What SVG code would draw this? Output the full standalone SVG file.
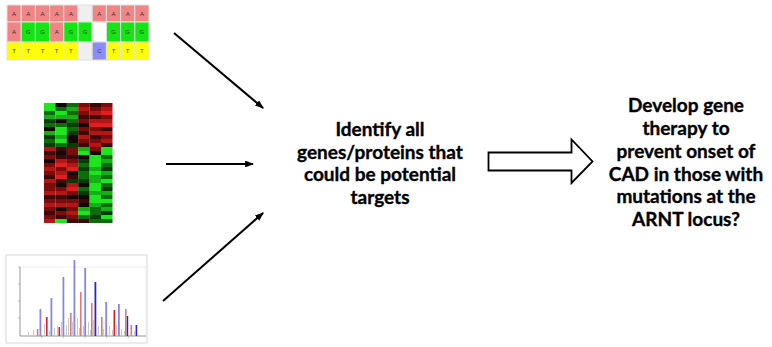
<svg xmlns="http://www.w3.org/2000/svg" width="772" height="347" viewBox="0 0 772 347">
<defs>
<style>
.cell{stroke:#e2e2e2;stroke-width:1}
.pk{fill:#f08585}.gn{fill:#14e614}.yl{fill:#ffff00}.bl{fill:#8c8cf5}.gy{fill:#efefef}.wh{fill:#ffffff}
.base{font-family:"Liberation Sans",Arial,sans-serif;font-size:6px;fill:#333;text-anchor:middle}
.g1{fill:#1ee61e}.g2{fill:#16b016}.g3{fill:#0b6e0b}.g4{fill:#073c07}.k{fill:#120808}
.r4{fill:#3c0808}.r3{fill:#7a0c0c}.r2{fill:#b41616}.r1{fill:#e21e1e}
.lb{fill:#8585ea}.db{fill:#2828d0}.lr{fill:#e07a7a}.dr{fill:#dc2020}.gb{fill:#c8c8c8}
.conn{stroke:#000;stroke-width:2;fill:none}
.lbl{font-family:Lato,"Liberation Sans",sans-serif;font-weight:bold;font-size:19px;fill:#000;stroke:#000;stroke-width:0.35;text-anchor:middle}
</style>
<marker id="ah" viewBox="0 0 8 6" refX="7" refY="3" markerWidth="4.5" markerHeight="3.4" orient="auto" markerUnits="strokeWidth">
<path d="M0,0 L8,3 L0,6 z" fill="#000"/>
</marker>
</defs>

<g id="sequence-alignment">
<rect class="cell pk" x="7" y="5" width="14.2" height="17"/>
<rect class="cell pk" x="21.2" y="5" width="14.2" height="17"/>
<rect class="cell pk" x="35.4" y="5" width="14.2" height="17"/>
<rect class="cell pk" x="49.6" y="5" width="14.2" height="17"/>
<rect class="cell pk" x="63.8" y="5" width="14.2" height="17"/>
<rect class="cell gy" x="78" y="5" width="14.2" height="17"/>
<rect class="cell pk" x="92.2" y="5" width="14.2" height="17"/>
<rect class="cell pk" x="106.4" y="5" width="14.2" height="17"/>
<rect class="cell pk" x="120.6" y="5" width="14.2" height="17"/>
<rect class="cell pk" x="134.8" y="5" width="14.2" height="17"/>

<rect class="cell pk" x="7" y="22" width="14.2" height="20"/>
<rect class="cell gn" x="21.2" y="22" width="14.2" height="20"/>
<rect class="cell gn" x="35.4" y="22" width="14.2" height="20"/>
<rect class="cell pk" x="49.6" y="22" width="14.2" height="20"/>
<rect class="cell gn" x="63.8" y="22" width="14.2" height="20"/>
<rect class="cell gn" x="78" y="22" width="14.2" height="20"/>
<rect class="cell wh" x="92.2" y="22" width="14.2" height="20"/>
<rect class="cell gn" x="106.4" y="22" width="14.2" height="20"/>
<rect class="cell gn" x="120.6" y="22" width="14.2" height="20"/>
<rect class="cell gn" x="134.8" y="22" width="14.2" height="20"/>

<rect class="cell yl" x="7" y="42" width="14.2" height="18"/>
<rect class="cell yl" x="21.2" y="42" width="14.2" height="18"/>
<rect class="cell yl" x="35.4" y="42" width="14.2" height="18"/>
<rect class="cell yl" x="49.6" y="42" width="14.2" height="18"/>
<rect class="cell yl" x="63.8" y="42" width="14.2" height="18"/>
<rect class="cell gy" x="78" y="42" width="14.2" height="18"/>
<rect class="cell bl" x="92.2" y="42" width="14.2" height="18"/>
<rect class="cell yl" x="106.4" y="42" width="14.2" height="18"/>
<rect class="cell yl" x="120.6" y="42" width="14.2" height="18"/>
<rect class="cell yl" x="134.8" y="42" width="14.2" height="18"/>

<text class="base" x="14.1" y="15.5">A</text>
<text class="base" x="28.3" y="15.5">A</text>
<text class="base" x="42.5" y="15.5">A</text>
<text class="base" x="56.7" y="15.5">A</text>
<text class="base" x="70.9" y="15.5">A</text>
<text class="base" x="99.3" y="15.5">A</text>
<text class="base" x="113.5" y="15.5">A</text>
<text class="base" x="127.7" y="15.5">A</text>
<text class="base" x="141.9" y="15.5">A</text>

<text class="base" x="14.1" y="34">A</text>
<text class="base" x="28.3" y="34">G</text>
<text class="base" x="42.5" y="34">G</text>
<text class="base" x="56.7" y="34">A</text>
<text class="base" x="70.9" y="34">G</text>
<text class="base" x="85.1" y="34">G</text>
<text class="base" x="113.5" y="34">G</text>
<text class="base" x="127.7" y="34">G</text>
<text class="base" x="141.9" y="34">G</text>

<text class="base" x="14.1" y="53">T</text>
<text class="base" x="28.3" y="53">T</text>
<text class="base" x="42.5" y="53">T</text>
<text class="base" x="56.7" y="53">T</text>
<text class="base" x="70.9" y="53">T</text>
<text class="base" x="99.3" y="53">C</text>
<text class="base" x="113.5" y="53">T</text>
<text class="base" x="127.7" y="53">T</text>
<text class="base" x="141.9" y="53">T</text>
</g>

<g id="heatmap">
<g transform="translate(44,103)">
<rect class="g1" y="0" width="11.5" height="4"/><rect class="g1" y="4" width="11.5" height="4"/><rect class="g3" y="8" width="11.5" height="4"/><rect class="g2" y="12" width="11.5" height="4"/><rect class="g4" y="16" width="11.5" height="4"/><rect class="g3" y="20" width="11.5" height="4"/><rect class="k" y="24" width="11.5" height="4"/><rect class="g2" y="28" width="11.5" height="4"/><rect class="g4" y="32" width="11.5" height="4"/><rect class="g3" y="36" width="11.5" height="4"/><rect class="g4" y="40" width="11.5" height="4"/><rect class="r2" y="44" width="11.5" height="4"/><rect class="r4" y="48" width="11.5" height="4"/><rect class="r3" y="52" width="11.5" height="4"/><rect class="k" y="56" width="11.5" height="4"/><rect class="r3" y="60" width="11.5" height="4"/><rect class="r2" y="64" width="11.5" height="4"/><rect class="r3" y="68" width="11.5" height="4"/><rect class="r4" y="72" width="11.5" height="4"/><rect class="r2" y="76" width="11.5" height="4"/><rect class="r3" y="80" width="11.5" height="4"/><rect class="r3" y="84" width="11.5" height="4"/><rect class="r2" y="88" width="11.5" height="4"/><rect class="r4" y="92" width="11.5" height="4"/><rect class="r3" y="96" width="11.5" height="4"/><rect class="r2" y="100" width="11.5" height="4"/><rect class="r3" y="104" width="11.5" height="4"/><rect class="r4" y="108" width="11.5" height="4"/><rect class="r3" y="112" width="11.5" height="4"/><rect class="r2" y="116" width="11.5" height="4"/>
</g>
<g transform="translate(55.4,103)">
<rect class="k" y="0" width="11.5" height="4"/><rect class="g3" y="4" width="11.5" height="4"/><rect class="g1" y="8" width="11.5" height="4"/><rect class="g2" y="12" width="11.5" height="4"/><rect class="k" y="16" width="11.5" height="4"/><rect class="g3" y="20" width="11.5" height="4"/><rect class="g1" y="24" width="11.5" height="4"/><rect class="g1" y="28" width="11.5" height="4"/><rect class="g2" y="32" width="11.5" height="4"/><rect class="g1" y="36" width="11.5" height="4"/><rect class="g3" y="40" width="11.5" height="4"/><rect class="r4" y="44" width="11.5" height="4"/><rect class="k" y="48" width="11.5" height="4"/><rect class="r4" y="52" width="11.5" height="4"/><rect class="r2" y="56" width="11.5" height="4"/><rect class="r1" y="60" width="11.5" height="4"/><rect class="r3" y="64" width="11.5" height="4"/><rect class="r2" y="68" width="11.5" height="4"/><rect class="r1" y="72" width="11.5" height="4"/><rect class="r4" y="76" width="11.5" height="4"/><rect class="k" y="80" width="11.5" height="4"/><rect class="r3" y="84" width="11.5" height="4"/><rect class="r2" y="88" width="11.5" height="4"/><rect class="r4" y="92" width="11.5" height="4"/><rect class="r3" y="96" width="11.5" height="4"/><rect class="r2" y="100" width="11.5" height="4"/><rect class="k" y="104" width="11.5" height="4"/><rect class="r3" y="108" width="11.5" height="4"/><rect class="r4" y="112" width="11.5" height="4"/><rect class="g1" y="116" width="11.5" height="4"/>
</g>
<g transform="translate(66.8,103)">
<rect class="g3" y="0" width="11.5" height="4"/><rect class="g2" y="4" width="11.5" height="4"/><rect class="g3" y="8" width="11.5" height="4"/><rect class="g2" y="12" width="11.5" height="4"/><rect class="g3" y="16" width="11.5" height="4"/><rect class="g4" y="20" width="11.5" height="4"/><rect class="g3" y="24" width="11.5" height="4"/><rect class="g4" y="28" width="11.5" height="4"/><rect class="k" y="32" width="11.5" height="4"/><rect class="k" y="36" width="11.5" height="4"/><rect class="g4" y="40" width="11.5" height="4"/><rect class="r3" y="44" width="11.5" height="4"/><rect class="r3" y="48" width="11.5" height="4"/><rect class="r4" y="52" width="11.5" height="4"/><rect class="r3" y="56" width="11.5" height="4"/><rect class="r2" y="60" width="11.5" height="4"/><rect class="r1" y="64" width="11.5" height="4"/><rect class="k" y="68" width="11.5" height="4"/><rect class="r4" y="72" width="11.5" height="4"/><rect class="g4" y="76" width="11.5" height="4"/><rect class="r2" y="80" width="11.5" height="4"/><rect class="r1" y="84" width="11.5" height="4"/><rect class="r3" y="88" width="11.5" height="4"/><rect class="k" y="92" width="11.5" height="4"/><rect class="r3" y="96" width="11.5" height="4"/><rect class="r2" y="100" width="11.5" height="4"/><rect class="r3" y="104" width="11.5" height="4"/><rect class="r2" y="108" width="11.5" height="4"/><rect class="r3" y="112" width="11.5" height="4"/><rect class="r4" y="116" width="11.5" height="4"/>
</g>
<g transform="translate(78.2,103)">
<rect class="r3" y="0" width="11.5" height="4"/><rect class="r2" y="4" width="11.5" height="4"/><rect class="r3" y="8" width="11.5" height="4"/><rect class="r4" y="12" width="11.5" height="4"/><rect class="r3" y="16" width="11.5" height="4"/><rect class="k" y="20" width="11.5" height="4"/><rect class="r3" y="24" width="11.5" height="4"/><rect class="r4" y="28" width="11.5" height="4"/><rect class="r2" y="32" width="11.5" height="4"/><rect class="r3" y="36" width="11.5" height="4"/><rect class="r4" y="40" width="11.5" height="4"/><rect class="g2" y="44" width="11.5" height="4"/><rect class="g1" y="48" width="11.5" height="4"/><rect class="k" y="52" width="11.5" height="4"/><rect class="g4" y="56" width="11.5" height="4"/><rect class="g3" y="60" width="11.5" height="4"/><rect class="g4" y="64" width="11.5" height="4"/><rect class="g3" y="68" width="11.5" height="4"/><rect class="g3" y="72" width="11.5" height="4"/><rect class="g4" y="76" width="11.5" height="4"/><rect class="k" y="80" width="11.5" height="4"/><rect class="g3" y="84" width="11.5" height="4"/><rect class="g4" y="88" width="11.5" height="4"/><rect class="k" y="92" width="11.5" height="4"/><rect class="r4" y="96" width="11.5" height="4"/><rect class="k" y="100" width="11.5" height="4"/><rect class="g2" y="104" width="11.5" height="4"/><rect class="g1" y="108" width="11.5" height="4"/><rect class="g3" y="112" width="11.5" height="4"/><rect class="r4" y="116" width="11.5" height="4"/>
</g>
<g transform="translate(89.6,103)">
<rect class="r4" y="0" width="11.5" height="4"/><rect class="r3" y="4" width="11.5" height="4"/><rect class="r2" y="8" width="11.5" height="4"/><rect class="r4" y="12" width="11.5" height="4"/><rect class="r2" y="16" width="11.5" height="4"/><rect class="r1" y="20" width="11.5" height="4"/><rect class="r3" y="24" width="11.5" height="4"/><rect class="r2" y="28" width="11.5" height="4"/><rect class="r4" y="32" width="11.5" height="4"/><rect class="r3" y="36" width="11.5" height="4"/><rect class="r2" y="40" width="11.5" height="4"/><rect class="r3" y="44" width="11.5" height="4"/><rect class="k" y="48" width="11.5" height="4"/><rect class="g1" y="52" width="11.5" height="4"/><rect class="g1" y="56" width="11.5" height="4"/><rect class="g1" y="60" width="11.5" height="4"/><rect class="g2" y="64" width="11.5" height="4"/><rect class="g1" y="68" width="11.5" height="4"/><rect class="g2" y="72" width="11.5" height="4"/><rect class="g2" y="76" width="11.5" height="4"/><rect class="g1" y="80" width="11.5" height="4"/><rect class="g1" y="84" width="11.5" height="4"/><rect class="g2" y="88" width="11.5" height="4"/><rect class="g1" y="92" width="11.5" height="4"/><rect class="g1" y="96" width="11.5" height="4"/><rect class="g2" y="100" width="11.5" height="4"/><rect class="g3" y="104" width="11.5" height="4"/><rect class="g3" y="108" width="11.5" height="4"/><rect class="g4" y="112" width="11.5" height="4"/><rect class="g3" y="116" width="11.5" height="4"/>
</g>
<g transform="translate(101,103)">
<rect class="r3" y="0" width="11.5" height="4"/><rect class="r2" y="4" width="11.5" height="4"/><rect class="r1" y="8" width="11.5" height="4"/><rect class="r3" y="12" width="11.5" height="4"/><rect class="r2" y="16" width="11.5" height="4"/><rect class="r1" y="20" width="11.5" height="4"/><rect class="r4" y="24" width="11.5" height="4"/><rect class="r2" y="28" width="11.5" height="4"/><rect class="r3" y="32" width="11.5" height="4"/><rect class="r2" y="36" width="11.5" height="4"/><rect class="r4" y="40" width="11.5" height="4"/><rect class="g1" y="44" width="11.5" height="4"/><rect class="g1" y="48" width="11.5" height="4"/><rect class="g3" y="52" width="11.5" height="4"/><rect class="g2" y="56" width="11.5" height="4"/><rect class="g3" y="60" width="11.5" height="4"/><rect class="g4" y="64" width="11.5" height="4"/><rect class="g2" y="68" width="11.5" height="4"/><rect class="g3" y="72" width="11.5" height="4"/><rect class="g1" y="76" width="11.5" height="4"/><rect class="g3" y="80" width="11.5" height="4"/><rect class="g4" y="84" width="11.5" height="4"/><rect class="g2" y="88" width="11.5" height="4"/><rect class="g3" y="92" width="11.5" height="4"/><rect class="g1" y="96" width="11.5" height="4"/><rect class="g3" y="100" width="11.5" height="4"/><rect class="g2" y="104" width="11.5" height="4"/><rect class="g4" y="108" width="11.5" height="4"/><rect class="g1" y="112" width="11.5" height="4"/><rect class="g3" y="116" width="11.5" height="4"/>
</g>
</g>

<g id="mass-spectrum">
<rect x="6" y="255" width="141" height="88" fill="#ffffff" stroke="#d8d8d8" stroke-width="1"/>
<rect x="20" y="267" width="126" height="69" fill="none" stroke="#e4e4e4" stroke-width="0.6"/>
<path d="M20,267 V336 H146" fill="none" stroke="#888" stroke-width="0.8"/>
<path d="M18,267 H20 M18,284 H20 M18,301 H20 M18,318 H20 M41.7,336 V338 M63.3,336 V338 M85,336 V338 M106.7,336 V338 M128.3,336 V338" stroke="#999" stroke-width="0.6"/>
<g>
<rect class="gb" x="28" y="332" width="1" height="4"/><rect class="gb" x="33" y="330" width="1" height="6"/><rect class="gb" x="44" y="324" width="1" height="12"/><rect class="gb" x="49" y="331" width="1" height="5"/><rect class="gb" x="54" y="328" width="1" height="8"/><rect class="gb" x="57" y="326" width="1" height="10"/><rect class="gb" x="61" y="322" width="1" height="14"/><rect class="gb" x="66" y="325" width="1" height="11"/><rect class="gb" x="68" y="318" width="1" height="18"/><rect class="gb" x="72" y="322" width="1" height="14"/><rect class="gb" x="77" y="318" width="1" height="18"/><rect class="gb" x="79" y="328" width="1" height="8"/><rect class="gb" x="83" y="326" width="1" height="10"/><rect class="gb" x="88" y="322" width="1" height="14"/><rect class="gb" x="90" y="330" width="1" height="6"/><rect class="gb" x="93" y="320" width="1" height="16"/><rect class="gb" x="98" y="326" width="1" height="10"/><rect class="gb" x="103" y="329" width="1" height="7"/><rect class="gb" x="109" y="326" width="1" height="10"/><rect class="gb" x="112" y="330" width="1" height="6"/><rect class="gb" x="116" y="325" width="1" height="11"/><rect class="gb" x="121" y="329" width="1" height="7"/><rect class="gb" x="124" y="331" width="1" height="5"/><rect class="gb" x="134" y="331" width="1" height="5"/>
<rect class="lr" x="36.8" y="329" width="1.6" height="7"/>
<rect class="lb" x="39.5" y="309" width="1.8" height="27"/>
<rect class="dr" x="46" y="317" width="1.6" height="19"/>
<rect class="lb" x="50.5" y="298" width="1.8" height="38"/>
<rect class="dr" x="58.5" y="327" width="1.6" height="9"/>
<rect class="lb" x="62.5" y="277" width="1.8" height="59"/>
<rect class="lr" x="70" y="313" width="1.6" height="23"/>
<rect class="lb" x="73.5" y="260" width="1.8" height="76"/>
<rect class="lr" x="80" y="292" width="1.6" height="44"/>
<rect class="lb" x="84.3" y="268" width="1.8" height="68"/>
<rect class="lr" x="91" y="303" width="1.6" height="33"/>
<rect class="db" x="94.5" y="282" width="1.8" height="54"/>
<rect class="lr" x="101" y="317" width="1.6" height="19"/>
<rect class="lb" x="105.3" y="302" width="1.8" height="34"/>
<rect class="dr" x="113.5" y="310" width="1.6" height="26"/>
<rect class="lb" x="118" y="304" width="1.8" height="32"/>
<rect class="lr" x="125" y="309" width="1.6" height="27"/>
<rect class="db" x="126.8" y="316" width="1.4" height="20"/>
<rect class="lr" x="130.5" y="325" width="1.6" height="11"/>
<rect class="db" x="135.6" y="325" width="1.6" height="11"/>
</g>
</g>

<g id="connectors">
<line class="conn" x1="174" y1="33" x2="263" y2="108" marker-end="url(#ah)"/>
<line class="conn" x1="166" y1="164" x2="253" y2="164" marker-end="url(#ah)"/>
<line class="conn" x1="163" y1="301" x2="263" y2="213" marker-end="url(#ah)"/>
<path d="M488.5,152.5 H571.5 V139.5 L592.5,161.5 L571.5,183 V170.5 H488.5 Z" fill="#fff" stroke="#000" stroke-width="1.8" stroke-linejoin="miter"/>
</g>

<g id="identify-node">
<text class="lbl" x="380" y="136">Identify all</text>
<text class="lbl" x="380" y="158.5">genes/proteins that</text>
<text class="lbl" x="380" y="181">could be potential</text>
<text class="lbl" x="380" y="203.5">targets</text>
</g>

<g id="therapy-node">
<text class="lbl" x="686" y="112">Develop gene</text>
<text class="lbl" x="686" y="135">therapy to</text>
<text class="lbl" x="686" y="158">prevent onset of</text>
<text class="lbl" x="686" y="180.5">CAD in those with</text>
<text class="lbl" x="686" y="203">mutations at the</text>
<text class="lbl" x="686" y="226">ARNT locus?</text>
</g>
</svg>
